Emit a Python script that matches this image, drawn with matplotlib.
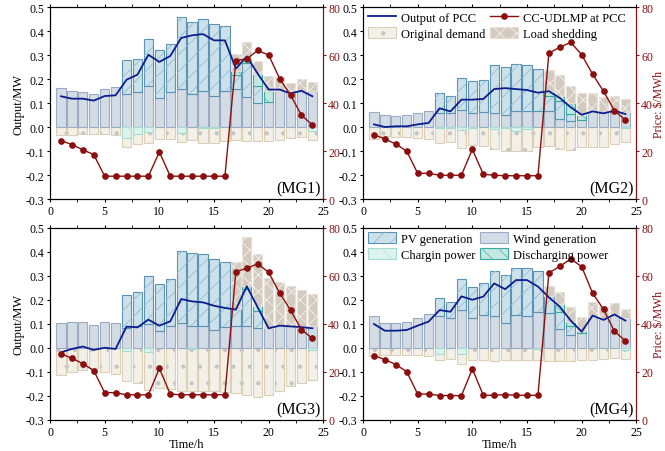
import matplotlib.pyplot as plt
import numpy as np
from matplotlib.patches import Patch
from matplotlib.lines import Line2D
from matplotlib.ticker import MultipleLocator

plt.rcParams["font.family"] = ["Liberation Serif", "DejaVu Serif"]
plt.rcParams["font.size"] = 8.5
plt.rcParams["hatch.linewidth"] = 0.6
plt.rcParams["axes.unicode_minus"] = False

hours = np.arange(1, 25)

# ---------------- MG1 ----------------
wind_mg1 = [0.162, 0.150, 0.146, 0.138, 0.158, 0.165, 0.136, 0.146, 0.169, 0.121, 0.146, 0.158,
            0.136, 0.151, 0.129, 0.151, 0.158, 0.124, 0.100, 0.103, 0.150, 0.145, 0.150, 0.150]
pv_mg1 = [0, 0, 0, 0, 0, 0, 0.143, 0.137, 0.199, 0.198, 0.200, 0.299,
          0.302, 0.299, 0.300, 0.269, 0.059, 0.141, 0.072, 0, 0, 0, 0, 0]
dis_mg1 = [0] * 16 + [0.018, 0.018, 0.049, 0.048, 0, 0, 0, 0]
shed_mg1 = [0] * 16 + [0.069, 0.070, 0.055, 0.063, 0.058, 0.040, 0.049, 0.038]
dem_mg1 = [0.032, 0.032, 0.028, 0.029, 0.029, 0.032, 0.083, 0.072, 0.067, 0.049, 0.049, 0.062,
           0.056, 0.067, 0.066, 0.060, 0.056, 0.060, 0.060, 0.060, 0.053, 0.046, 0.042, 0.053]
chg_mg1 = [0, 0, 0, 0, 0, 0, 0.046, 0.028, 0.020, 0, 0, 0.025,
           0, 0.005, 0.003, 0, 0, 0, 0, 0, 0, 0, 0, 0.017]
pcc_mg1 = [0.128, 0.118, 0.118, 0.110, 0.129, 0.132, 0.197, 0.218, 0.301, 0.271, 0.296, 0.371,
           0.382, 0.387, 0.361, 0.361, 0.243, 0.294, 0.222, 0.156, 0.156, 0.140, 0.151, 0.128]
price_mg1 = [24.3, 22.7, 20.5, 18.5, 9.5, 9.5, 9.5, 9.5, 9.5, 19.6, 9.5, 9.5,
             9.5, 9.5, 9.5, 9.5, 57.7, 58.4, 61.9, 60.0, 50.2, 43.3, 34.9, 30.9]

# ---------------- MG2 ----------------
wind_mg2 = [0.064, 0.049, 0.046, 0.049, 0.058, 0.067, 0.058, 0.058, 0.072, 0.058, 0.064, 0.060,
            0.049, 0.067, 0.066, 0.068, 0.068, 0.033, 0.024, 0.030, 0.061, 0.061, 0.065, 0.061]
pv_mg2 = [0, 0, 0, 0, 0, 0, 0.082, 0.072, 0.132, 0.132, 0.133, 0.200,
          0.201, 0.196, 0.194, 0.172, 0.062, 0.077, 0.030, 0, 0, 0, 0, 0]
dis_mg2 = [0] * 16 + [0.015, 0.020, 0.045, 0.020, 0, 0, 0, 0]
shed_mg2 = [0] * 16 + [0.092, 0.087, 0.073, 0.090, 0.079, 0.063, 0.065, 0.056]
dem_mg2 = [0.050, 0.036, 0.043, 0.043, 0.046, 0.050, 0.068, 0.064, 0.088, 0.075, 0.078, 0.090,
           0.099, 0.099, 0.099, 0.085, 0.078, 0.092, 0.095, 0.085, 0.085, 0.082, 0.071, 0.064]
chg_mg2 = [0, 0, 0, 0, 0, 0, 0.006, 0.006, 0.012, 0.005, 0, 0.008,
           0.005, 0.015, 0.008, 0, 0, 0, 0, 0, 0, 0, 0, 0.006]
pcc_mg2 = [0.011, 0.000, 0.003, 0.003, 0.011, 0.017, 0.078, 0.065, 0.114, 0.114, 0.117, 0.158,
           0.162, 0.158, 0.154, 0.143, 0.149, 0.121, 0.082, 0.051, 0.065, 0.057, 0.068, 0.054]
price_mg2 = [26.8, 25.0, 22.9, 19.9, 10.7, 10.7, 9.9, 9.9, 9.9, 20.7, 10.3, 9.9,
             9.7, 9.7, 9.7, 9.7, 60.8, 63.2, 65.3, 60.1, 52.0, 44.9, 36.8, 32.9]

# ---------------- MG3 ----------------
wind_mg3 = [0.103, 0.107, 0.107, 0.096, 0.107, 0.104, 0.082, 0.093, 0.100, 0.069, 0.090, 0.104,
            0.093, 0.093, 0.075, 0.086, 0.093, 0.090, 0.082, 0.082, 0.093, 0.090, 0.090, 0.090]
pv_mg3 = [0, 0, 0, 0, 0, 0, 0.139, 0.142, 0.199, 0.199, 0.197, 0.301,
          0.301, 0.300, 0.296, 0.271, 0.070, 0.156, 0.074, 0, 0, 0, 0, 0]
dis_mg3 = [0] * 16 + [0, 0.014, 0.020, 0, 0, 0, 0, 0]
shed_mg3 = [0] * 16 + [0.194, 0.201, 0.216, 0.208, 0.182, 0.168, 0.150, 0.135]
dem_mg3 = [0.111, 0.100, 0.090, 0.085, 0.100, 0.107, 0.138, 0.145, 0.175, 0.165, 0.170, 0.180,
           0.178, 0.178, 0.180, 0.185, 0.188, 0.197, 0.203, 0.197, 0.180, 0.158, 0.147, 0.133]
chg_mg3 = [0, 0, 0, 0, 0, 0, 0.012, 0, 0.015, 0, 0, 0,
           0.004, 0, 0, 0, 0, 0, 0, 0, 0, 0, 0, 0.010]
pcc_mg3 = [-0.018, -0.004, 0.006, -0.008, 0.001, -0.004, 0.089, 0.086, 0.118, 0.093, 0.111, 0.204,
           0.194, 0.190, 0.176, 0.167, 0.160, 0.257, 0.169, 0.082, 0.093, 0.090, 0.087, 0.082]
price_mg3 = [27.6, 25.7, 23.5, 20.6, 11.4, 11.4, 10.5, 10.5, 10.5, 21.5, 10.8, 10.5,
             10.5, 10.5, 10.5, 10.5, 61.8, 63.2, 65.1, 61.5, 52.9, 45.8, 37.6, 34.0]

# ---------------- MG4 ----------------
wind_mg4 = [0.135, 0.106, 0.103, 0.107, 0.124, 0.140, 0.135, 0.124, 0.158, 0.124, 0.137, 0.135,
            0.105, 0.137, 0.133, 0.149, 0.144, 0.078, 0.055, 0.062, 0.128, 0.121, 0.128, 0.125]
pv_mg4 = [0, 0, 0, 0, 0, 0, 0.072, 0.069, 0.130, 0.129, 0.132, 0.187,
          0.200, 0.196, 0.200, 0.170, 0.074, 0.071, 0.038, 0, 0, 0, 0, 0]
dis_mg4 = [0] * 16 + [0, 0.034, 0.014, 0.008, 0, 0, 0, 0]
shed_mg4 = [0] * 16 + [0.042, 0.049, 0.062, 0.058, 0.062, 0.055, 0.058, 0.038]
dem_mg4 = [0.035, 0.030, 0.030, 0.030, 0.030, 0.035, 0.050, 0.045, 0.065, 0.050, 0.050, 0.055,
           0.050, 0.050, 0.050, 0.050, 0.055, 0.055, 0.055, 0.050, 0.050, 0.045, 0.040, 0.045]
chg_mg4 = [0, 0, 0, 0, 0, 0, 0.025, 0, 0.025, 0, 0, 0,
           0, 0, 0, 0.003, 0, 0, 0, 0, 0, 0, 0, 0.010]
pcc_mg4 = [0.100, 0.072, 0.072, 0.075, 0.093, 0.110, 0.158, 0.151, 0.215, 0.201, 0.214, 0.269,
           0.245, 0.283, 0.283, 0.256, 0.211, 0.172, 0.114, 0.068, 0.135, 0.117, 0.140, 0.114]
price_mg4 = [26.8, 25.2, 23.1, 20.1, 10.8, 10.8, 10.2, 10.2, 10.1, 21.3, 10.3, 10.3,
             10.6, 10.3, 10.3, 10.3, 61.3, 64.0, 67.1, 63.9, 52.8, 46.1, 36.9, 33.0]

# colours: (face, edge, hatch, hatch colour)
WIND = ("#d3dbe5", "#9aabc3", None, None)
PV = ("#cde1ea", "#5b93b5", "//", "#97bdd2")
DIS = ("#c3e8e2", "#3aa99e", "\\\\", "#5cbcb1")
CHG = ("#dcf3ee", "#a6dccf", "\\", "#bde7dd")
DEM = ("#f3f0e8", "#dccfb8", ".", "#c4c4c4")
SHED = ("#d3cac0", "#e6dfd7", "xx", "#f4f1ee")
NAVY = "#0b1e8f"
RED = "#8b0f0f"
W = 0.85


def bars(ax, height, bottom, style, z=2):
    face, edge, hatch, hcol = style
    height = np.asarray(height, float)
    bottom = np.asarray(bottom, float)
    m = height != 0
    ax.bar(hours[m], height[m], W, bottom=bottom[m], color=face, edgecolor=edge, linewidth=0.8, zorder=z)
    if hatch:
        ax.bar(hours[m], height[m], W, bottom=bottom[m], facecolor="none", edgecolor=hcol,
               hatch=hatch, linewidth=0, zorder=z)


def handle(style):
    face, edge, hatch, hcol = style
    p1 = Patch(facecolor=face, edgecolor=edge, linewidth=0.8)
    if hatch is None:
        return p1
    p2 = Patch(facecolor="none", edgecolor=hcol, hatch=hatch, linewidth=0)
    return (p1, p2)


def panel(ax, wind, pv, dis, shed, dem, chg, pcc, price, tag):
    wind, pv, dis = np.asarray(wind), np.asarray(pv), np.asarray(dis)
    zero = np.zeros(24)
    bars(ax, -np.asarray(dem), zero, DEM)
    bars(ax, -np.asarray(chg), zero, CHG, z=3)
    bars(ax, wind, zero, WIND)
    bars(ax, pv, wind, PV)
    bars(ax, dis, wind + pv, DIS)
    bars(ax, shed, wind + pv + dis, SHED)
    ax.plot(hours, pcc, color=NAVY, lw=1.3, zorder=4)

    ax.set_xlim(0, 25)
    ax.set_ylim(-0.3, 0.5)
    ax.xaxis.set_major_locator(MultipleLocator(5))
    ax.xaxis.set_minor_locator(MultipleLocator(2.5))
    ax.yaxis.set_major_locator(MultipleLocator(0.1))
    ax.yaxis.set_major_formatter(plt.FuncFormatter(lambda v, p: f"{v:.1f}"))
    ax.tick_params(axis="x", which="both", top=True, direction="out", length=2.5, pad=2)
    ax.tick_params(axis="y", direction="out", length=2.5, pad=1.5)

    tw = ax.twinx()
    tw.plot(hours, price, color=RED, lw=1.0, marker="o", ms=3.8, zorder=5)
    tw.set_ylim(0, 80)
    tw.yaxis.set_major_locator(MultipleLocator(20))
    tw.tick_params(axis="y", colors=RED, direction="out", length=2.5, pad=1)
    tw.spines["right"].set_color(RED)
    tw.text(0.99, 0.015, tag, transform=tw.transAxes, ha="right", va="bottom", fontsize=11.5)
    return tw


fig = plt.figure(figsize=(6.65, 4.52), dpi=100)
lx, rx, w = 0.0752, 0.5459, 0.411
ty, by, h = 0.5575, 0.0686, 0.4248
ax1 = fig.add_axes([lx, ty, w, h])
ax2 = fig.add_axes([rx, ty, w, h])
ax3 = fig.add_axes([lx, by, w, h])
ax4 = fig.add_axes([rx, by, w, h])

tw1 = panel(ax1, wind_mg1, pv_mg1, dis_mg1, shed_mg1, dem_mg1, chg_mg1, pcc_mg1, price_mg1, "(MG1)")
tw2 = panel(ax2, wind_mg2, pv_mg2, dis_mg2, shed_mg2, dem_mg2, chg_mg2, pcc_mg2, price_mg2, "(MG2)")
tw3 = panel(ax3, wind_mg3, pv_mg3, dis_mg3, shed_mg3, dem_mg3, chg_mg3, pcc_mg3, price_mg3, "(MG3)")
tw4 = panel(ax4, wind_mg4, pv_mg4, dis_mg4, shed_mg4, dem_mg4, chg_mg4, pcc_mg4, price_mg4, "(MG4)")

for a in (ax1, ax3):
    a.set_ylabel("Output/MW", fontsize=9, labelpad=1)
for t in (tw2, tw4):
    t.set_ylabel(r"Price: \$/MWh", fontsize=8.5, color=RED, labelpad=-0.5)
for a in (ax3, ax4):
    a.set_xlabel("Time/h", fontsize=9, labelpad=-0.5)

# legends
pcc_h = Line2D([], [], color=NAVY, lw=1.3)
price_h = Line2D([], [], color=RED, lw=1.0, marker="o", ms=3.8)
leg_kw = dict(ncol=2, loc="upper left", bbox_to_anchor=(0.005, 1.0), frameon=False,
              borderaxespad=0, borderpad=0.3, handlelength=2.2, handleheight=1.0,
              handletextpad=0.4, columnspacing=0.4, labelspacing=0.25, fontsize=9)
tw2.legend([pcc_h, handle(DEM), price_h, handle(SHED)],
           ["Output of PCC", "Original demand", "CC-UDLMP at PCC", "Load shedding"], **leg_kw)
tw4.legend([handle(PV), handle(CHG), handle(WIND), handle(DIS)],
           ["PV generation", "Chargin power", "Wind generation", "Discharging power"], **leg_kw)

fig.savefig("out.png", dpi=100)
